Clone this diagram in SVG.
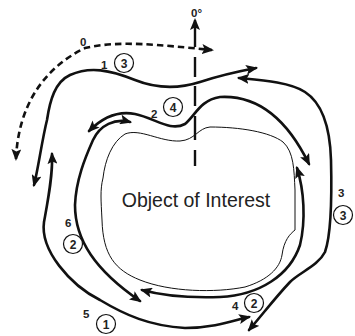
<svg xmlns="http://www.w3.org/2000/svg" width="355" height="336" viewBox="0 0 355 336">
<defs>
<marker id="ah" viewBox="0 0 12 10" refX="10" refY="5" markerWidth="12" markerHeight="10" markerUnits="userSpaceOnUse" orient="auto-start-reverse">
<path d="M0,0 L12,5 L0,10 L2.5,5 Z" fill="#111"/>
</marker>
</defs>
<style>
.c{fill:none;stroke:#111;stroke-width:2.6;stroke-linecap:round;stroke-linejoin:round}
.d{fill:none;stroke:#111;stroke-width:2.6;stroke-dasharray:6.5 4}
.o{fill:none;stroke:#111;stroke-width:1}
.ax{stroke:#111;stroke-width:2.4}
.n{font-family:"Liberation Sans",Arial,sans-serif;font-weight:bold;font-size:11.5px;fill:#222}
.cn{font-family:"Liberation Sans",Arial,sans-serif;font-weight:bold;font-size:12px;fill:#222;text-anchor:middle}
.ci{fill:#fff;stroke:#111;stroke-width:1.2}
.t{font-family:"Liberation Sans",Arial,sans-serif;font-size:19.5px;fill:#222;text-anchor:middle}
</style>
<rect width="355" height="336" fill="#fff"/>
<g id="object">
<path class="o" d="M103,178 C105,160 112,142 125,134 C140,128 160,142 180,141 C195,140 198,128 210,127 C240,127 270,132 283,142 C294,152 294,170 295,190 L295,230 C290,234 284,240 282,255 C280,268 268,280 245,287 C215,293 170,292 140,280 C115,270 103,255 102,220 C101,200 100,190 103,178 Z"/>
<text class="t" x="196" y="207">Object of Interest</text>
</g>
<g id="axis">
<line class="ax" x1="195" y1="47" x2="195" y2="20" marker-end="url(#ah)"/>
<line class="ax" x1="195" y1="57" x2="195" y2="77"/>
<line class="ax" x1="195" y1="86" x2="195" y2="106"/>
<line class="ax" x1="195" y1="116" x2="195" y2="140"/>
<line class="ax" x1="195" y1="150" x2="195" y2="166"/>
<text class="n" x="191" y="17">0°</text>
</g>
<g id="connectors">
<path id="p0" class="d" d="M16,159 C18,110 40,70 85,48 C120,40 160,45 212,50" marker-start="url(#ah)" marker-end="url(#ah)"/>
<path id="p1" class="c" d="M34,185 C38,170 42,140 47,120 C50,100 55,82 70,75 C90,66 110,70 135,80 C155,88 175,90 200,82 C215,77 235,72 256,68" marker-start="url(#ah)" marker-end="url(#ah)"/>
<path id="p3" class="c" d="M239,78 C260,80 290,82 305,92 C322,103 330,125 331,160 C332,200 331,235 325,252 C318,266 300,272 290,282 C275,298 262,315 249,330" marker-start="url(#ah)" marker-end="url(#ah)"/>
<path id="p2" class="c" d="M89,131 C100,120 115,110 135,114 C155,118 170,132 185,124 C195,116 200,100 220,97 C255,95 285,115 309,164" marker-start="url(#ah)" marker-end="url(#ah)"/>
<path id="p6" class="c" d="M130,122 C115,118 100,125 93,140 C85,158 76,180 75,205 C75,240 95,270 140,301" marker-start="url(#ah)" marker-end="url(#ah)"/>
<path id="p4" class="c" d="M142,290 C160,295 190,298 220,297 C260,295 290,275 300,245 C306,220 304,190 297,168" marker-start="url(#ah)" marker-end="url(#ah)"/>
<path id="p5" class="c" d="M52,154 C53,175 48,200 44,222 C40,250 70,285 100,300 C125,315 150,326 185,328 C215,328 235,320 249,317" marker-start="url(#ah)" marker-end="url(#ah)"/>
</g>
<g id="label0"><text class="n" x="80" y="46">0</text></g>
<g id="label1"><text class="n" x="101" y="69">1</text><circle class="ci" cx="124" cy="63" r="9.5"/><text class="cn" x="124" y="67.5">3</text></g>
<g id="label2"><text class="n" x="151" y="118">2</text><circle class="ci" cx="173" cy="107" r="9.5"/><text class="cn" x="173" y="111.5">4</text></g>
<g id="label3"><text class="n" x="338" y="197">3</text><circle class="ci" cx="343" cy="215" r="9.5"/><text class="cn" x="343" y="219.5">3</text></g>
<g id="label4"><text class="n" x="232" y="310">4</text><circle class="ci" cx="254" cy="303" r="9.5"/><text class="cn" x="254" y="307.5">2</text></g>
<g id="label6"><text class="n" x="65" y="227">6</text><circle class="ci" cx="73" cy="244" r="9.5"/><text class="cn" x="73" y="248.5">2</text></g>
<g id="label5"><text class="n" x="83" y="318">5</text><circle class="ci" cx="106" cy="324" r="9.5"/><text class="cn" x="106" y="328.5">1</text></g>
</svg>
